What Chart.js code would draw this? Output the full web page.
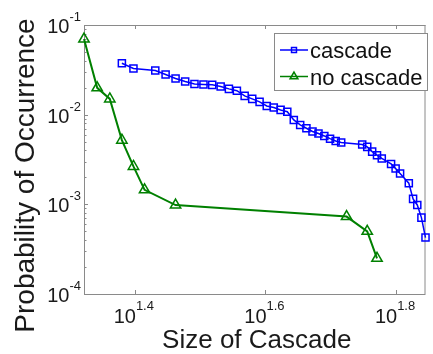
<!DOCTYPE html>
<html>
<head>
<meta charset="utf-8">
<script src="https://cdn.jsdelivr.net/npm/chart.js@4"></script>
<style>
  body { margin: 0; background: #fff; }
  canvas { display: block; }
</style>
</head>
<body>
<canvas id="chart" width="433" height="354"></canvas>
<script>
// data
const sizesCascade = [24, 25, 27, 28, 29, 30, 31, 32, 33, 34, 35, 36, 37, 38, 39, 40, 41, 42, 43, 44,
  45, 46, 47, 48, 49, 50, 51, 52, 56, 57, 58, 59, 60, 62, 63, 64, 66, 67, 68, 69, 70];
const probCascade = [0.0374, 0.0327, 0.0311, 0.0281, 0.0253, 0.0234, 0.0220, 0.0217, 0.0215, 0.0206,
  0.0194, 0.0185, 0.0162, 0.0150, 0.0139, 0.0125, 0.0120, 0.0113, 0.0108, 0.00873,
  0.00768, 0.00705, 0.00650, 0.00617, 0.00579, 0.00540, 0.00509, 0.00490, 0.00465, 0.00437,
  0.00387, 0.00353, 0.00325, 0.00282, 0.00251, 0.00221, 0.00172, 0.00115, 0.000984, 0.000711, 0.000426];

const sizesNoCascade = [21, 22, 23, 24, 25, 26, 29, 53, 57, 59];
const probNoCascade = [0.0698, 0.0199, 0.0150, 0.0052, 0.00265, 0.00145, 0.00098, 0.00073, 0.00050, 0.00025];

const xTickExps = [1.4, 1.6, 1.8];
const yTickExps = [-1, -2, -3, -4];

const FONT = '"Liberation Sans", Arial, Helvetica, sans-serif';
const AXIS_COLOR = '#8a8a8a';

function toPoints(xs, ys) {
  return xs.map((x, i) => ({ x: x, y: ys[i] }));
}

// axes box, ticks, tick labels, titles
const matlabAxes = {
  id: 'matlabAxes',
  beforeDatasetsDraw(chart) {
    const ctx = chart.ctx;
    const a = chart.chartArea;
    const xs = chart.scales.x, ys = chart.scales.y;
    ctx.save();
    ctx.strokeStyle = AXIS_COLOR;
    ctx.lineWidth = 1;
    ctx.beginPath();
    ctx.moveTo(a.left + 0.5, a.top + 0.5);
    ctx.lineTo(a.right, a.top + 0.5);
    ctx.moveTo(a.left + 0.5, a.top);
    ctx.lineTo(a.left + 0.5, a.bottom + 0.5);
    ctx.lineTo(a.right, a.bottom + 0.5);
    ctx.moveTo(a.right - 0.5, a.top);
    ctx.lineTo(a.right - 0.5, a.bottom);
    // x ticks
    xTickExps.forEach(e => {
      const px = Math.round(xs.getPixelForValue(Math.pow(10, e))) + 0.5;
      ctx.moveTo(px, a.bottom);
      ctx.lineTo(px, a.bottom - 4);
      ctx.moveTo(px, a.top);
      ctx.lineTo(px, a.top + 4);
    });
    // y ticks, major and minor
    yTickExps.forEach(e => {
      const py = Math.round(ys.getPixelForValue(Math.pow(10, e))) + 0.5;
      ctx.moveTo(a.left, py);
      ctx.lineTo(a.left + 4, py);
      if (e > -4) {
        for (let m = 2; m <= 9; m++) {
          const v = m * Math.pow(10, e - 1);
          const pm = Math.round(ys.getPixelForValue(v)) + 0.5;
          ctx.moveTo(a.left, pm);
          ctx.lineTo(a.left + 2.5, pm);
        }
      }
    });
    ctx.stroke();

    ctx.fillStyle = '#1a1a1a';
    ctx.textBaseline = 'alphabetic';
    ctx.textAlign = 'left';
    const big = '20px ' + FONT, small = '13px ' + FONT;

    // y tick labels
    yTickExps.forEach(e => {
      const py = ys.getPixelForValue(Math.pow(10, e));
      const sup = String(e);
      ctx.font = small;
      const ws = ctx.measureText(sup).width;
      ctx.font = big;
      const wb = ctx.measureText('10').width;
      const right = a.left - 3;
      ctx.fillText('10', right - ws - wb, py + 8);
      ctx.font = small;
      ctx.fillText(sup, right - ws, py - 4);
    });

    // x tick labels
    xTickExps.forEach(e => {
      const px = xs.getPixelForValue(Math.pow(10, e));
      const sup = e.toFixed(1);
      ctx.font = small;
      const ws = ctx.measureText(sup).width;
      ctx.font = big;
      const wb = ctx.measureText('10').width;
      const left = px - 1 - (wb + ws) / 2;
      ctx.fillText('10', left, a.bottom + 29);
      ctx.font = small;
      ctx.fillText(sup, left + wb, a.bottom + 16);
    });

    // axis titles
    ctx.font = '26px ' + FONT;
    ctx.textAlign = 'center';
    ctx.fillText('Size of Cascade', (a.left + a.right) / 2 + 2, a.bottom + 54);
    ctx.save();
    ctx.translate(34, (a.top + a.bottom) / 2 + 16);
    ctx.rotate(-Math.PI / 2);
    ctx.font = '28px ' + FONT;
    ctx.fillText('Probability of Occurrence', 0, 0);
    ctx.restore();
    ctx.restore();
  },
  afterDraw(chart) {
    // legend box in the upper right
    const ctx = chart.ctx;
    const bx = 274, by = 33, bw = 153, bh = 57;
    ctx.save();
    ctx.fillStyle = '#fff';
    ctx.fillRect(bx, by, bw, bh);
    ctx.strokeStyle = AXIS_COLOR;
    ctx.lineWidth = 1;
    ctx.strokeRect(bx + 0.5, by + 0.5, bw, bh);
    chart.data.datasets.forEach((ds, i) => {
      const ly = 50 + i * 26.5;
      ctx.strokeStyle = ds.borderColor;
      ctx.lineWidth = 1.5;
      ctx.beginPath();
      ctx.moveTo(280, ly);
      ctx.lineTo(308, ly);
      ctx.stroke();
      ctx.fillStyle = 'rgba(0,0,0,0)';
      Chart.helpers.drawPoint(ctx, {
        pointStyle: ds.pointStyle, radius: ds.pointStyle === 'rect' ? 3.5 : 4.5,
        rotation: 0, borderWidth: 1.3
      }, 294, ly);
      ctx.fillStyle = '#111';
      ctx.font = '22px ' + FONT;
      ctx.textAlign = 'left';
      ctx.textBaseline = 'alphabetic';
      ctx.fillText(ds.label, 310, ly + 8);
    });
    ctx.restore();
  }
};

new Chart(document.getElementById('chart'), {
  type: 'line',
  data: {
    datasets: [{
      label: 'cascade',
      data: toPoints(sizesCascade, probCascade),
      borderColor: '#0000ff',
      borderWidth: 1.5,
      pointStyle: 'rect',
      pointRadius: 5,
      pointBorderWidth: 1.5,
      pointBorderColor: '#0000ff',
      pointBackgroundColor: 'rgba(0,0,0,0)',
      tension: 0,
      clip: false
    }, {
      label: 'no cascade',
      data: toPoints(sizesNoCascade, probNoCascade),
      borderColor: '#008000',
      borderWidth: 2,
      pointStyle: 'triangle',
      pointRadius: 6,
      pointBorderWidth: 1.5,
      pointBorderColor: '#008000',
      pointBackgroundColor: 'rgba(0,0,0,0)',
      tension: 0,
      clip: false
    }]
  },
  options: {
    responsive: false,
    animation: false,
    layout: { padding: { left: 84, top: 25, right: 0, bottom: 60 } },
    plugins: { legend: { display: false }, tooltip: { enabled: false } },
    scales: {
      x: { type: 'logarithmic', min: 21, max: 70, display: false },
      y: { type: 'logarithmic', min: 1e-4, max: 1e-1, display: false }
    }
  },
  plugins: [matlabAxes]
});
</script>
</body>
</html>
